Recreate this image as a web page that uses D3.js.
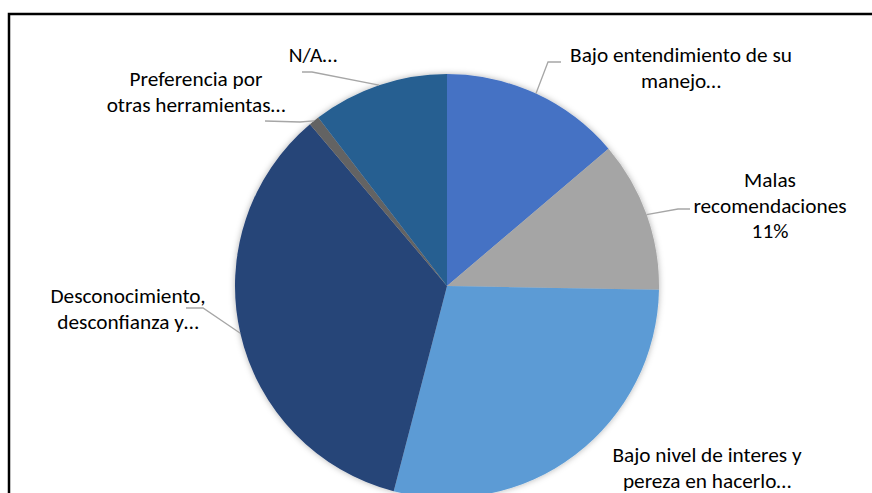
<!DOCTYPE html>
<html>
<head>
<meta charset="utf-8">
<script src="https://cdn.jsdelivr.net/npm/d3@7"></script>
<style>
  body { margin: 0; background: #fff; }
  text { font-family: Calibri, Carlito, Lato, sans-serif; fill: #000; }
</style>
</head>
<body>
<div id="chart"></div>
<script>
var width = 872,
    height = 493
var cx = 447, cy = 286, radius = 212

// data (percent of answers)
var categories = ["Bajo entendimiento de su manejo", "Malas recomendaciones", "Bajo nivel de interes y pereza en hacerlo",
                  "Desconocimiento, desconfianza y miedo", "Preferencia por otras herramientas", "N/A"]
var values = [13.8, 11.5, 28.8, 34.8, 0.8, 10.4]
var colors = ["#4472C4", "#A5A5A5", "#5B9BD5", "#264478", "#636363", "#255E91"]
var labelLines = [
  ["Bajo entendimiento de su", "manejo…"],
  ["Malas", "recomendaciones", "11%"],
  ["Bajo nivel de interes y", "pereza en hacerlo…"],
  ["Desconocimiento,", "desconfianza y…"],
  ["Preferencia por", "otras herramientas…"],
  ["N/A…"]
]

// where excel dropped each label (x centre, first baseline) and the leader bend points
var labelLayout = [
  { x: 681, y: 62, bend: [[548, 62], [561, 62]] },
  { x: 770, y: 187, bend: [[678, 209], [690, 209]] },
  { x: 707, y: 462, bend: null },
  { x: 128, y: 303, bend: [[203, 308], [186, 308]] },
  { x: 196, y: 86, bend: [[300, 122], [265, 121]] },
  { x: 313, y: 62, bend: [[312, 72], [302, 72]] }
]
var lineHeight = 25.5

var svg = d3.select("#chart")
  .append("svg")
    .attr("width", width)
    .attr("height", height)

var defs = svg.append("defs")
var filter = defs.append("filter")
    .attr("id", "shadow")
    .attr("x", "-10%").attr("y", "-10%")
    .attr("width", "120%").attr("height", "120%")
filter.append("feDropShadow")
    .attr("dx", 0).attr("dy", 0)
    .attr("stdDeviation", 3)
    .attr("flood-color", "#000")
    .attr("flood-opacity", 0.3)

// frame of the pasted chart
svg.append("rect")
    .attr("x", 9).attr("y", 14)
    .attr("width", 1000).attr("height", 1000)
    .attr("fill", "none")
    .attr("stroke", "#000")
    .attr("stroke-width", 2.5)

var pie = d3.pie()
    .sort(null)
    .value(function(d) { return d.value })
var pie_data = pie(categories.map(function(c, i) { return { key: c, value: values[i] } }))

var arc = d3.arc()
    .innerRadius(0)
    .outerRadius(radius)

var g = svg.append("g")
    .attr("transform", "translate(" + cx + "," + cy + ")")

g.append("g")
    .attr("filter", "url(#shadow)")
  .selectAll("path")
  .data(pie_data)
  .enter()
  .append("path")
    .attr("d", arc)
    .attr("fill", function(d, i) { return colors[i] })

// leader lines: start on the rim at the slice's middle angle
var leaders = svg.append("g")
pie_data.forEach(function(d, i) {
  var lay = labelLayout[i]
  if (!lay.bend) return
  var a = (d.startAngle + d.endAngle) / 2
  var start = [cx + radius * Math.sin(a), cy - radius * Math.cos(a)]
  var pts = [start].concat(lay.bend)
  leaders.append("path")
    .attr("d", d3.line()(pts))
    .attr("fill", "none")
    .attr("stroke", "#A6A6A6")
    .attr("stroke-width", 1.3)
})

var labels = svg.append("g")
var texts = labels.selectAll("text")
  .data(pie_data)
  .enter()
  .append("text")
    .attr("text-anchor", "middle")
    .style("font-size", "21px")
texts.each(function(d, i) {
  var t = d3.select(this)
  labelLines[i].forEach(function(line, j) {
    t.append("tspan")
      .attr("x", labelLayout[i].x)
      .attr("y", labelLayout[i].y + j * lineHeight)
      .text(line)
  })
})

// scale the font so the long line matches the reference width (~222px)
var probe = texts.filter(function(d, i) { return i === 0 }).select("tspan").node()
var w = probe.getComputedTextLength()
var fs = 21 * 222 / w
texts.style("font-size", fs + "px")
</script>
</body>
</html>
